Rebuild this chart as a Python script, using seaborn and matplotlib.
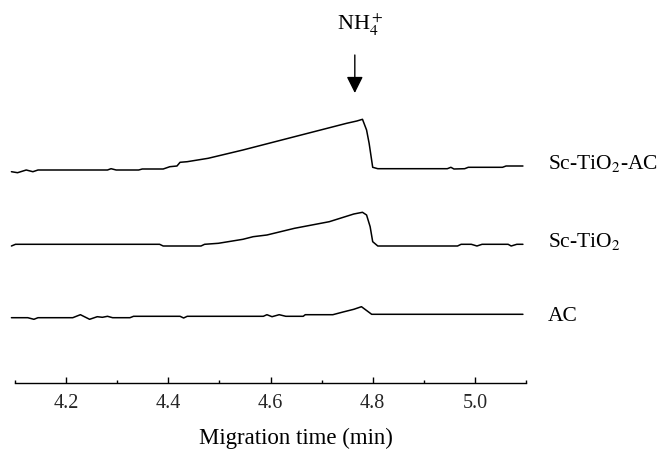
import numpy as np
import pandas as pd
import matplotlib
matplotlib.use("Agg")
import matplotlib.pyplot as plt
import seaborn as sns

# --- electropherogram traces (arbitrary detector units) ---
t_sc_tio2_ac = [4.093, 4.105, 4.122, 4.135, 4.145, 4.281, 4.288, 4.298, 4.342, 4.349,
                4.390, 4.403, 4.417, 4.423, 4.437, 4.478, 4.546, 4.647, 4.749, 4.769,
                4.780, 4.788, 4.793, 4.800, 4.810, 4.946, 4.953, 4.959, 4.980, 4.987,
                5.054, 5.061, 5.094]
y_sc_tio2_ac = [211.3, 210.3, 213.0, 211.3, 213.0, 213.0, 214.3, 213.0, 213.0, 214.0,
                214.0, 216.3, 217.0, 220.7, 221.3, 224.7, 233.0, 246.3, 259.7, 262.0,
                263.7, 253.0, 239.7, 215.7, 214.3, 214.3, 215.7, 214.0, 214.3, 215.7,
                215.7, 217.0, 217.0]

t_sc_tio2 = [4.093, 4.101, 4.383, 4.390, 4.464, 4.471, 4.498, 4.546, 4.566, 4.593,
             4.647, 4.715, 4.763, 4.780, 4.788, 4.795, 4.800, 4.810, 4.966, 4.973,
             4.993, 5.004, 5.014, 5.065, 5.071, 5.082, 5.094]
y_sc_tio2 = [137.0, 138.7, 138.7, 137.0, 137.0, 138.7, 139.7, 143.7, 146.3, 148.0,
             154.7, 161.3, 169.0, 170.7, 168.0, 156.3, 141.3, 137.0, 137.0, 138.7,
             138.7, 137.0, 138.7, 138.7, 137.0, 138.7, 138.7]

t_ac = [4.093, 4.125, 4.137, 4.145, 4.213, 4.228, 4.246, 4.261, 4.271, 4.281,
        4.291, 4.325, 4.332, 4.423, 4.430, 4.437, 4.586, 4.593, 4.603, 4.617,
        4.630, 4.664, 4.668, 4.722, 4.742, 4.763, 4.778, 4.798, 5.094]
y_ac = [65.3, 65.3, 63.7, 65.3, 65.3, 68.3, 63.7, 66.3, 65.7, 66.7,
        65.3, 65.3, 66.7, 66.7, 65.0, 66.7, 66.7, 68.3, 66.3, 68.3,
        66.7, 66.7, 68.3, 68.3, 71.0, 73.7, 76.3, 68.7, 68.7]

trace_names = [r"Sc-TiO$_2$-AC", r"Sc-TiO$_2$", "AC"]
label_levels = [214, 136, 62]   # baseline of the right-hand labels
peak_label = r"NH$_4^+$"
peak_time = 4.765

x_ticks = [4.2, 4.4, 4.6, 4.8, 5.0]
x_minor = [4.1, 4.3, 4.5, 4.7, 4.9, 5.1]

df = pd.concat([
    pd.DataFrame({"time": t_sc_tio2_ac, "signal": y_sc_tio2_ac, "trace": trace_names[0]}),
    pd.DataFrame({"time": t_sc_tio2, "signal": y_sc_tio2, "trace": trace_names[1]}),
    pd.DataFrame({"time": t_ac, "signal": y_ac, "trace": trace_names[2]}),
])

sns.set_theme(style="white")
plt.rcParams["font.family"] = ["Liberation Serif", "DejaVu Serif"]
plt.rcParams["mathtext.fontset"] = "stix"

fig = plt.figure(figsize=(6.61, 4.58), dpi=100)
ax = fig.add_axes([15 / 661, 75 / 458, 511 / 661, 383 / 458])

for name in trace_names:
    sub = df[df["trace"] == name]
    sns.lineplot(x=sub["time"].values, y=sub["signal"].values, ax=ax, color="black",
                 lw=1.1, sort=False, estimator=None, clip_on=False)

ax.set_xlim(4.1, 5.1)
ax.set_ylim(0, 383)
ax.set_yticks([])
for s in ["left", "right", "top"]:
    ax.spines[s].set_visible(False)
ax.spines["bottom"].set_color("black")
ax.spines["bottom"].set_linewidth(1.0)

ax.set_xticks(x_ticks)
ax.set_xticklabels([f"{v:.1f}" for v in x_ticks])
ax.set_xticks(x_minor, minor=True)
ax.tick_params(axis="x", which="major", direction="in", length=4, width=1,
               color="black", labelsize=14.5, pad=8, bottom=True)
ax.tick_params(axis="x", which="minor", direction="in", length=2.5, width=1,
               color="black", bottom=True)
ax.set_xlabel("Migration time (min)", fontsize=16.5, color="black")
ax.xaxis.set_label_coords(0.55, -0.118)

for name, lvl in zip(trace_names, label_levels):
    ax.text(5.143, lvl, name, fontsize=15.5, ha="left", va="baseline",
            color="black", clip_on=False)

ax.annotate("", xy=(peak_time, 290), xytext=(peak_time, 328),
            arrowprops=dict(arrowstyle="-|>,head_length=0.5,head_width=0.25",
                            color="black", lw=1.0, mutation_scale=20,
                            shrinkA=0, shrinkB=0))
ax.text(peak_time + 0.01, 353, peak_label, fontsize=16, ha="center",
        va="baseline", color="black", clip_on=False)

fig.savefig("out.png", dpi=100, facecolor="white")
